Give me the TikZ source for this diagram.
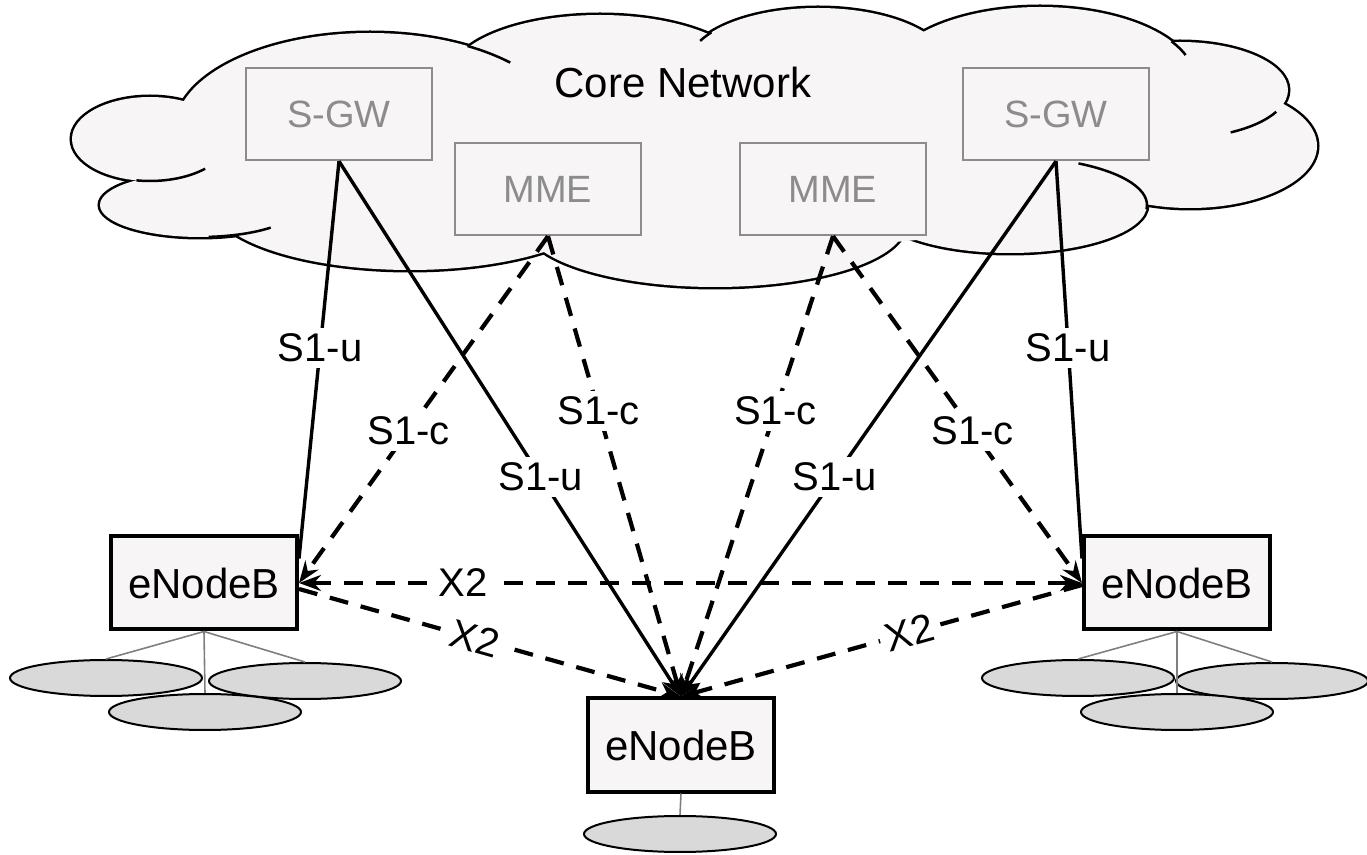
\documentclass[tikz,border=0pt]{standalone}
\usepackage{fontspec}
\setmainfont{Liberation Sans}
\usetikzlibrary{arrows.meta,calc,shapes.geometric}
\definecolor{cloudfill}{HTML}{F7F5F6}
\definecolor{boxgray}{HTML}{8C8C8C}
\definecolor{uefill}{HTML}{D9D9D9}
\definecolor{uegray}{HTML}{7F7F7F}
\begin{document}
\begin{tikzpicture}[x=0.5pt,y=-0.5pt,
 corebox/.style={draw=boxgray, line width=1.2pt, minimum width=93pt, minimum height=46pt, text=boxgray, font=\fontsize{19}{22}\selectfont, inner sep=0pt},
 enb/.style={draw=black, line width=2pt, fill=cloudfill, minimum width=93pt, minimum height=46.5pt, font=\fontsize{21}{24}\selectfont, inner sep=0pt},
 ue/.style={ellipse, draw=black, line width=1pt, fill=uefill, minimum width=96pt, minimum height=18pt, inner sep=0pt},
 ueline/.style={draw=uegray, line width=0.8pt},
 su/.style={line width=1.7pt},
 sc/.style={line width=2.1pt, dash pattern=on 9.5pt off 6.5pt},
 tip/.style={-{Stealth[length=11pt,width=8pt]}},
 tips/.style={{Stealth[length=11pt,width=8pt]}-{Stealth[length=11pt,width=8pt]}},
 lbl/.style={fill=white, inner sep=3pt, font=\fontsize{20}{22}\selectfont},
 cloudline/.style={line width=1.25pt},
]
\useasboundingbox (0,0) rectangle (1367,855);
% cloud
\def\cloudlist{150/139/78/42, 200/205/100/32, 370/130/195/97, 600/77/150/62, 818/65/130/57, 1040/80/155/73, 1180/90/108/48, 1190/146/127/62, 1010/205/137/48, 715/225/190/62, 410/200/200/70}
\foreach \cx/\cy/\rx/\ry in \cloudlist
  \draw[line width=2.5pt] (\cx,\cy) ellipse [x radius=\rx, y radius=\ry];
\foreach \cx/\cy/\rx/\ry in \cloudlist
  \fill[cloudfill] (\cx,\cy) ellipse [x radius=\rx, y radius=\ry];
\fill[cloudfill] (690,150) ellipse [x radius=520, y radius=100];
% inner strokes of the cloud
\foreach \cx/\cy/\rx/\ry/\a/\b in {150/139/78/42/100/45, 200/205/100/32/85/45, 370/130/195/97/-60/-44, 818/65/130/57/-155/-145, 1040/80/155/73/-32/-20, 1180/90/108/48/27/62, 1010/205/137/48/-60/5}
  \draw[cloudline] (\cx,\cy) ++(\a:{\rx} and {\ry}) arc [start angle=\a, end angle=\b, x radius=\rx, y radius=\ry];

\node[font=\fontsize{21}{24}\selectfont] (core) at (683,82) {Core Network};
\node[corebox] (sgwL) at (339,114) {S-GW};
\node[corebox] (mmeL) at (548,189) {MME};
\node[corebox] (mmeR) at (833,189) {MME};
\node[corebox] (sgwR) at (1056,114) {S-GW};

\node[enb] (enbL) at (204,583) {eNodeB};
\node[enb] (enbR) at (1177,583) {eNodeB};
\node[enb] (enbB) at (681,745) {eNodeB};

% UEs
\node[ue] (ueL1) at (106,678) {};
\node[ue] (ueL2) at (305,681) {};
\node[ue] (ueL3) at (205,712) {};
\node[ue] (ueR1) at (1078,678) {};
\node[ue] (ueR2) at (1272,681) {};
\node[ue] (ueR3) at (1177,712) {};
\node[ue] (ueB) at (680,834) {};
\draw[ueline] (enbL.south) -- (ueL1.north);
\draw[ueline] (enbL.south) -- (ueL2.north);
\draw[ueline] (enbL.south) -- (ueL3.north);
\draw[ueline] (enbR.south) -- (ueR1.north);
\draw[ueline] (enbR.south) -- (ueR2.north);
\draw[ueline] (enbR.south) -- (ueR3.north);
\draw[ueline] (enbB.south) -- (ueB.north);

% coordinates
\coordinate (enbLu) at ([yshift=-12pt]enbL.north east);
\coordinate (enbRu) at ([yshift=-12pt]enbR.north west);
\coordinate (enbLx) at ([yshift=-3pt]enbL.east);
\coordinate (enbRx) at ([yshift=-1pt]enbR.west);

% S1-u
\draw[su] (sgwL.south) -- node[lbl, pos=0.47] {S1-u} (enbLu);
\draw[su, tip] (sgwL.south) -- node[lbl, pos=0.59] {S1-u} (enbB.north);
\draw[su, tip] (sgwR.south) -- node[lbl, pos=0.59] {S1-u} (enbB.north);
\draw[su] (sgwR.south) -- node[lbl, pos=0.47] {S1-u} (enbRu);
% S1-c
\draw[sc, tip] (mmeL.south) -- node[lbl, pos=0.56] {S1-c} (enbL.east);
\draw[sc, tip] (mmeL.south) -- node[lbl, pos=0.38] {S1-c} (enbB.north);
\draw[sc, tip] (mmeR.south) -- node[lbl, pos=0.38] {S1-c} (enbB.north);
\draw[sc, tip] (mmeR.south) -- node[lbl, pos=0.56] {S1-c} (enbR.west);
% X2
\draw[sc, tips] (enbL.east) -- node[lbl, pos=0.21] {X2} (enbR.west);
\draw[sc, tip] (enbLx) -- node[lbl, pos=0.46, sloped] {X2} (enbB.north);
\draw[sc, tip] (enbRx) -- node[lbl, pos=0.43, sloped] {X2} (enbB.north);
\end{tikzpicture}
\end{document}
